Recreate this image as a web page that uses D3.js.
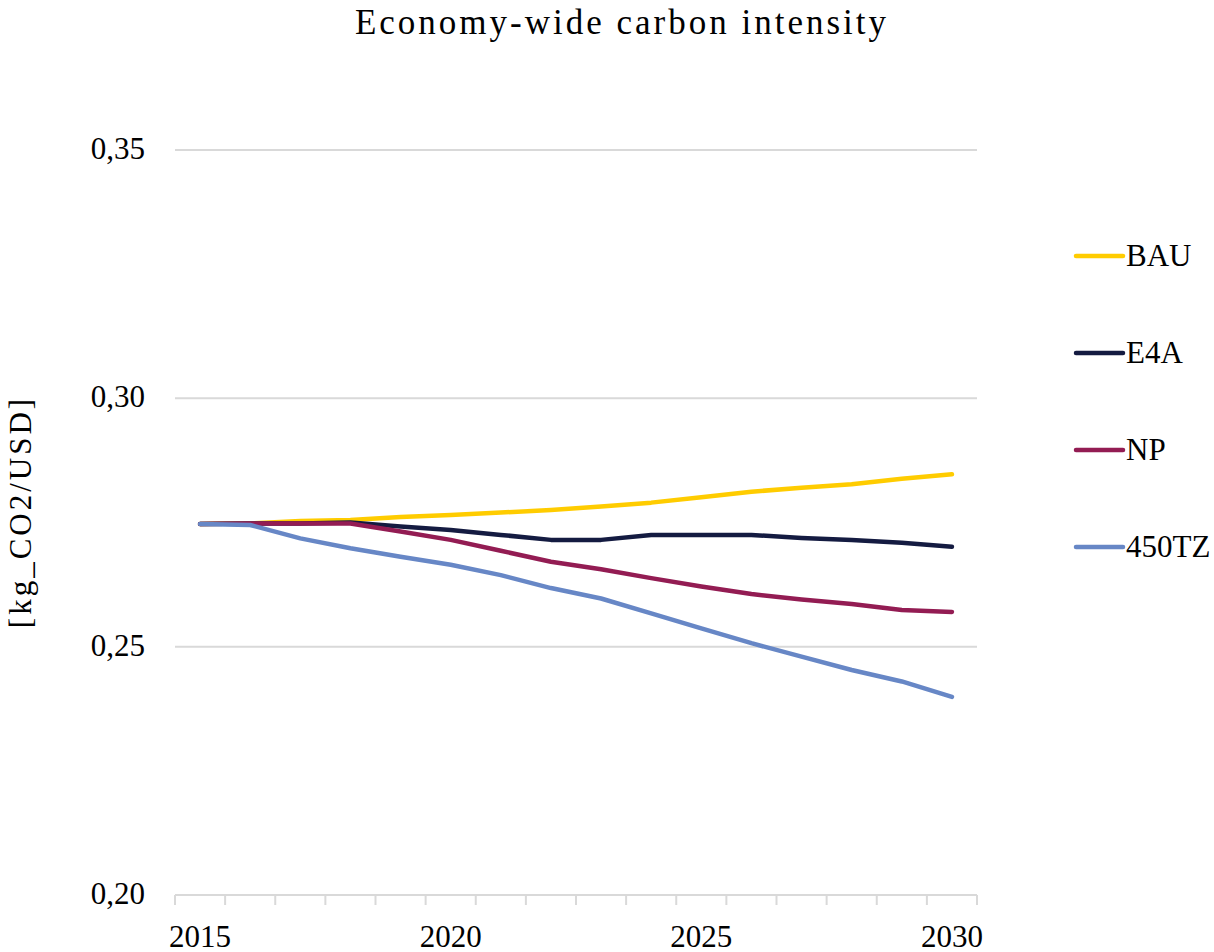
<!DOCTYPE html>
<html>
<head>
<meta charset="utf-8">
<script src="https://cdn.jsdelivr.net/npm/d3@7"></script>
<style>
  html, body { margin: 0; padding: 0; background: #fff; }
  svg { display: block; font-family: "Liberation Serif", "DejaVu Serif", serif; }
</style>
</head>
<body>
<svg id="chart" width="1214" height="952"></svg>
<script>
// Years on the category axis
const years = [2015, 2016, 2017, 2018, 2019, 2020, 2021, 2022, 2023, 2024, 2025, 2026, 2027, 2028, 2029, 2030];
const yearLabels = [2015, 2020, 2025, 2030];

// Carbon intensity per scenario [kg_CO2/USD]
const bau   = [0.2747, 0.2748, 0.2753, 0.2755, 0.2761, 0.2765, 0.2770, 0.2775, 0.2782, 0.2790, 0.2801, 0.2812, 0.2820, 0.2827, 0.2838, 0.2847];
const e4a   = [0.2747, 0.2748, 0.2748, 0.2750, 0.2742, 0.2735, 0.2725, 0.2715, 0.2715, 0.2725, 0.2725, 0.2725, 0.2719, 0.2715, 0.2709, 0.2701];
const np    = [0.2747, 0.2748, 0.2748, 0.2748, 0.2732, 0.2715, 0.2693, 0.2671, 0.2656, 0.2638, 0.2621, 0.2606, 0.2595, 0.2586, 0.2574, 0.2570];
const tz450 = [0.2747, 0.2745, 0.2718, 0.2698, 0.2681, 0.2665, 0.2644, 0.2618, 0.2597, 0.2567, 0.2537, 0.2507, 0.2480, 0.2453, 0.2430, 0.2399];

const seriesNames  = ["BAU", "E4A", "NP", "450TZ"];
const seriesColors = ["#FFCC00", "#141B41", "#931C53", "#6787C6"];
const yTicks = [0.20, 0.25, 0.30, 0.35];

const series = seriesNames.map((name, i) => ({
  name,
  color: seriesColors[i],
  values: [bau, e4a, np, tz450][i]
}));

const svg = d3.select("#chart");

const plot = { left: 175, right: 977, top: 150, bottom: 895 };

const x = d3.scaleBand().domain(years).range([plot.left, plot.right]).paddingInner(0).paddingOuter(0);
const xc = d => x(d) + x.bandwidth() / 2;
const y = d3.scaleLinear().domain([0.20, 0.35]).range([plot.bottom, plot.top]);

const fmt = v => d3.format(".2f")(v).replace(".", ",");

// Horizontal gridlines
svg.append("g")
  .selectAll("line")
  .data(yTicks.filter(t => t > 0.2))
  .join("line")
  .attr("x1", plot.left).attr("x2", plot.right)
  .attr("y1", d => y(d)).attr("y2", d => y(d))
  .attr("stroke", "#D9D9D9").attr("stroke-width", 2);

// Y tick labels
svg.append("g")
  .selectAll("text")
  .data(yTicks)
  .join("text")
  .attr("x", 145)
  .attr("y", d => y(d) + 9)
  .attr("text-anchor", "end")
  .attr("font-size", 31)
  .attr("fill", "#000")
  .text(fmt);

// Bottom category axis
const xAxis = d3.axisBottom(x)
  .tickValues(yearLabels)
  .tickSize(0)
  .tickPadding(0);
const gx = svg.append("g").attr("transform", `translate(0,${plot.bottom})`).call(xAxis);
gx.select(".domain").remove();
gx.selectAll("text")
  .attr("y", 52)
  .attr("dy", null)
  .attr("font-family", "Liberation Serif, serif")
  .attr("font-size", 31)
  .attr("fill", "#000");

// Axis line with tick marks between categories
svg.append("line")
  .attr("x1", plot.left).attr("x2", plot.right)
  .attr("y1", plot.bottom).attr("y2", plot.bottom)
  .attr("stroke", "#D9D9D9").attr("stroke-width", 2);
const boundaries = years.map(d => x(d)).concat([plot.right]);
svg.append("g")
  .selectAll("line")
  .data(boundaries)
  .join("line")
  .attr("x1", d => d).attr("x2", d => d)
  .attr("y1", plot.bottom).attr("y2", plot.bottom + 10)
  .attr("stroke", "#D9D9D9").attr("stroke-width", 2);

// Scenario lines
const line = d3.line()
  .x((d, i) => xc(years[i]))
  .y(d => y(d));

svg.append("g")
  .selectAll("path")
  .data(series)
  .join("path")
  .attr("d", d => line(d.values))
  .attr("fill", "none")
  .attr("stroke", d => d.color)
  .attr("stroke-width", 4.5)
  .attr("stroke-linejoin", "round")
  .attr("stroke-linecap", "round");

// Legend
const legend = svg.append("g")
  .selectAll("g")
  .data(series)
  .join("g")
  .attr("transform", (d, i) => `translate(1076,${256 + i * 97})`);
legend.append("line")
  .attr("x1", 0).attr("x2", 47)
  .attr("stroke", d => d.color)
  .attr("stroke-width", 4.5)
  .attr("stroke-linecap", "round");
legend.append("text")
  .attr("x", 50)
  .attr("y", 10)
  .attr("font-size", 31)
  .attr("fill", "#000")
  .text(d => d.name);

// Title
svg.append("text")
  .attr("x", 622)
  .attr("y", 34)
  .attr("text-anchor", "middle")
  .attr("font-size", 35)
  .attr("letter-spacing", 3)
  .attr("fill", "#000")
  .text("Economy-wide carbon intensity");

// Y-axis title
svg.append("text")
  .attr("transform", "translate(31,512) rotate(-90)")
  .attr("text-anchor", "middle")
  .attr("font-size", 31)
  .attr("letter-spacing", 3)
  .attr("fill", "#000")
  .text("[kg_CO2/USD]");
</script>
</body>
</html>
